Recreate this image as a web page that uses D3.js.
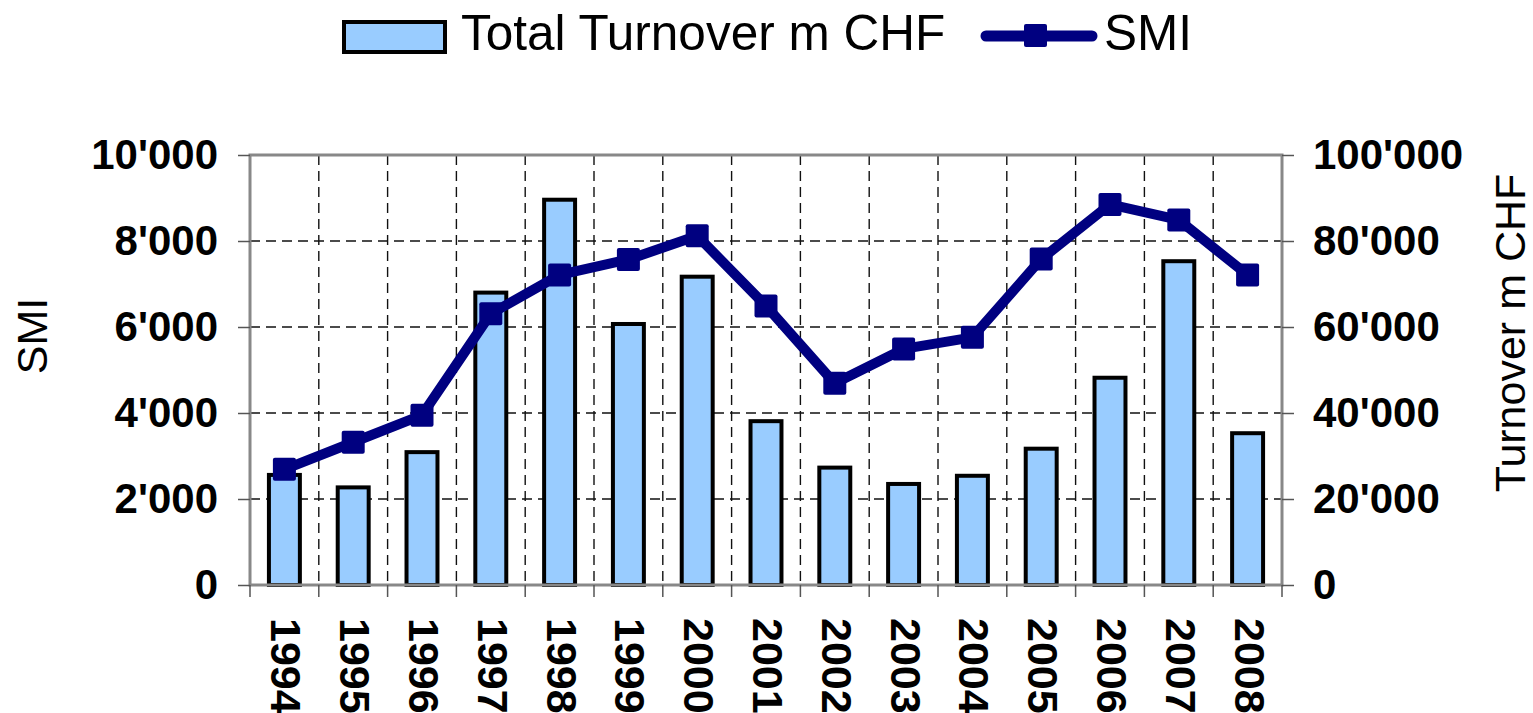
<!DOCTYPE html>
<html>
<head>
<meta charset="utf-8">
<script src="https://cdn.jsdelivr.net/npm/d3@7"></script>
<style>
  body { margin: 0; background: #fff; }
</style>
</head>
<body>
<div id="chart"></div>
<script>
const years = ["1994","1995","1996","1997","1998","1999","2000","2001","2002","2003","2004","2005","2006","2007","2008"];
const turnover = [25600, 22700, 30900, 68000, 89600, 60700, 71700, 38100, 27300, 23500, 25400, 31700, 48200, 75300, 35300];
const smi = [2690, 3320, 3950, 6310, 7210, 7570, 8120, 6490, 4690, 5490, 5760, 7580, 8850, 8490, 7210];
const smiTicks = [0, 2000, 4000, 6000, 8000, 10000];
const turnoverTicks = [0, 20000, 40000, 60000, 80000, 100000];

const width = 1533, height = 713;
const plot = { left: 250, right: 1282, top: 155, bottom: 585 };

const svg = d3.select("#chart").append("svg")
  .attr("width", width)
  .attr("height", height)
  .style("font-family", "'Liberation Sans', Arial, sans-serif");

const x = d3.scaleBand()
  .domain(years)
  .range([plot.left, plot.right]);

const yLeft = d3.scaleLinear().domain([0, 10000]).range([plot.bottom, plot.top]);
const yRight = d3.scaleLinear().domain([0, 100000]).range([plot.bottom, plot.top]);

const fmt = v => d3.format(",")(v).replace(/,/g, "'");

// Dashed grid
svg.append("g")
  .selectAll("line")
  .data(smiTicks.slice(1, -1))
  .join("line")
    .attr("x1", plot.left)
    .attr("x2", plot.right)
    .attr("y1", d => yLeft(d))
    .attr("y2", d => yLeft(d))
    .attr("stroke", "#111")
    .attr("stroke-width", 1.4)
    .attr("stroke-dasharray", "10,6");

const bounds = d3.range(years.length + 1).map(i => plot.left + i * x.step());

svg.append("g")
  .selectAll("line")
  .data(bounds.slice(1, -1))
  .join("line")
    .attr("x1", d => d)
    .attr("x2", d => d)
    .attr("y1", plot.top)
    .attr("y2", plot.bottom)
    .attr("stroke", "#111")
    .attr("stroke-width", 1.4)
    .attr("stroke-dasharray", "10,6");

// Bars
const barW = x.bandwidth() * 0.45;
svg.append("g")
  .selectAll("rect")
  .data(years)
  .join("rect")
    .attr("x", d => x(d) + (x.bandwidth() - barW) / 2)
    .attr("y", (d, i) => yRight(turnover[i]))
    .attr("width", barW)
    .attr("height", (d, i) => plot.bottom - yRight(turnover[i]))
    .attr("fill", "#99ccff")
    .attr("stroke", "#000")
    .attr("stroke-width", 4);

// Frame
svg.append("rect")
  .attr("x", plot.left)
  .attr("y", plot.top)
  .attr("width", plot.right - plot.left)
  .attr("height", plot.bottom - plot.top)
  .attr("fill", "none")
  .attr("stroke", "#888")
  .attr("stroke-width", 3);

// Left axis
const leftAxis = svg.append("g")
  .attr("transform", `translate(${plot.left},0)`)
  .call(d3.axisLeft(yLeft).tickValues(smiTicks).tickFormat(fmt).tickSize(12).tickPadding(20));

// Right axis
const rightAxis = svg.append("g")
  .attr("transform", `translate(${plot.right},0)`)
  .call(d3.axisRight(yRight).tickValues(turnoverTicks).tickFormat(fmt).tickSize(12).tickPadding(19));

[leftAxis, rightAxis].forEach(a => {
  a.select(".domain").remove();
  a.selectAll(".tick line").attr("stroke", "#555").attr("stroke-width", 1.5);
  a.selectAll(".tick text")
    .attr("font-size", 42)
    .attr("font-weight", "bold")
    .attr("fill", "#000")
    .attr("font-family", "'Liberation Sans', Arial, sans-serif");
});

// Bottom ticks at category boundaries
svg.append("g")
  .selectAll("line")
  .data(bounds)
  .join("line")
    .attr("x1", d => d)
    .attr("x2", d => d)
    .attr("y1", plot.bottom)
    .attr("y2", plot.bottom + 12)
    .attr("stroke", "#555")
    .attr("stroke-width", 1.5);

// Year labels
svg.append("g")
  .selectAll("text")
  .data(years)
  .join("text")
    .attr("transform", d => `translate(${x(d) + x.bandwidth() / 2 + 2},618) rotate(90)`)
    .attr("dy", "0.35em")
    .attr("font-size", 43)
    .attr("font-weight", "bold")
    .text(d => d);

// SMI line
const line = d3.line()
  .x((d, i) => x(years[i]) + x.bandwidth() / 2)
  .y(d => yLeft(d));

svg.append("path")
  .datum(smi)
  .attr("d", line)
  .attr("fill", "none")
  .attr("stroke", "#000080")
  .attr("stroke-width", 10)
  .attr("stroke-linejoin", "round");

const mk = 23;
svg.append("g")
  .selectAll("rect")
  .data(smi)
  .join("rect")
    .attr("x", (d, i) => x(years[i]) + x.bandwidth() / 2 - mk / 2)
    .attr("y", d => yLeft(d) - mk / 2)
    .attr("width", mk)
    .attr("height", mk)
    .attr("rx", 2)
    .attr("fill", "#000080");

// Axis titles
svg.append("text")
  .attr("transform", "translate(32,336) rotate(-90)")
  .attr("text-anchor", "middle")
  .attr("dy", "0.35em")
  .attr("font-size", 43)
  .text("SMI");

svg.append("text")
  .attr("transform", "translate(1510,333) rotate(-90)")
  .attr("text-anchor", "middle")
  .attr("dy", "0.35em")
  .attr("font-size", 43)
  .text("Turnover m CHF");

// Legend
const legend = svg.append("g");
legend.append("rect")
  .attr("x", 344)
  .attr("y", 22)
  .attr("width", 101)
  .attr("height", 30)
  .attr("fill", "#99ccff")
  .attr("stroke", "#000")
  .attr("stroke-width", 4);
legend.append("text")
  .attr("x", 461)
  .attr("y", 50)
  .attr("font-size", 49.5)
  .text("Total Turnover m CHF");
legend.append("line")
  .attr("x1", 986)
  .attr("x2", 1092)
  .attr("y1", 36)
  .attr("y2", 36)
  .attr("stroke", "#000080")
  .attr("stroke-width", 11)
  .attr("stroke-linecap", "round");
legend.append("rect")
  .attr("x", 1024)
  .attr("y", 24)
  .attr("width", mk)
  .attr("height", mk)
  .attr("rx", 2)
  .attr("fill", "#000080");
legend.append("text")
  .attr("x", 1104)
  .attr("y", 50)
  .attr("font-size", 49.5)
  .text("SMI");
</script>
</body>
</html>
